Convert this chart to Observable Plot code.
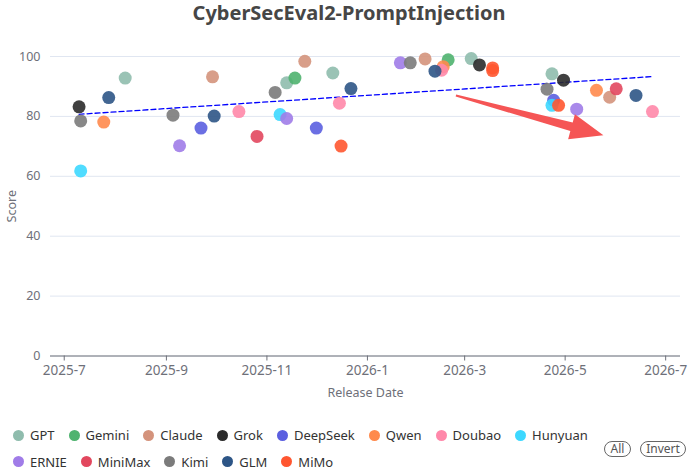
<!DOCTYPE html>
<html>
<head>
<meta charset="utf-8">
<script src="https://cdn.jsdelivr.net/npm/d3@7"></script>
<script src="https://cdn.jsdelivr.net/npm/@observablehq/plot@0.6"></script>
<style>
  html, body { margin: 0; padding: 0; background: #fff; }
  #wrap { position: relative; width: 690px; height: 471px; overflow: hidden; font-family: "Noto Sans", sans-serif; }
  #title { position: absolute; left: 0; top: 0; width: 690px; height: 28px; line-height: 25px; text-align: center;
           box-sizing: border-box; padding-left: 8px;
           font-weight: bold; font-size: 20px; color: #464646; }
  #chart { position: absolute; left: 0; top: 28px; }
  .row { position: absolute; left: 13px; height: 18px; display: flex; align-items: center; gap: 14px; }
  .item { display: flex; align-items: center; font-size: 13px; color: #333; white-space: nowrap; }
  .sw { width: 11px; height: 11px; border-radius: 50%; margin-right: 6px; flex: none; }
  .btn { position: absolute; top: 441px; height: 14px; line-height: 14px; border: 1px solid #666; border-radius: 8px;
         font-size: 12px; color: #555; text-align: center; box-sizing: content-box; }
</style>
</head>
<body>
<div id="wrap">
  <div id="title">CyberSecEval2-PromptInjection</div>
  <div id="chart"></div>
  <div id="legend"></div>
  <div class="btn" style="left:604px;width:25px;">All</div>
  <div class="btn" style="left:640px;width:44px;">Invert</div>
</div>
<script>
const models = ["GPT","Gemini","Claude","Grok","DeepSeek","Qwen","Doubao","Hunyuan","ERNIE","MiniMax","Kimi","GLM","MiMo"];
const colors = ["#8fbcad","#4fb36f","#d4937c","#2b2b2b","#5b5fe0","#ff8a4c","#ff88aa","#3dd8ff","#a07ce8","#e2475e","#7b7b7b","#2d5586","#ff5630"];

const GPT      = [["2025-08-07",92.8],["2025-11-13",91.2],["2025-12-11",94.5],["2026-03-05",99.3],["2026-04-23",94.2]];
const Gemini   = [["2025-11-18",92.8],["2026-02-19",98.9]];
const Claude   = [["2025-09-29",93.2],["2025-11-24",98.4],["2026-02-05",99.2],["2026-05-28",86.4]];
const Grok     = [["2025-07-10",83.2],["2026-03-10",97.2],["2026-04-30",92.1]];
const DeepSeek = [["2025-09-22",76.1],["2025-12-01",76.1],["2026-04-24",85.4]];
const Qwen     = [["2025-07-25",78.1],["2026-02-16",96.6],["2026-05-20",88.7]];
const Doubao   = [["2025-10-15",81.6],["2025-12-15",84.4],["2026-02-15",95.4],["2026-06-23",81.6]];
const Hunyuan  = [["2025-07-11",61.8],["2025-11-09",80.6],["2026-04-23",83.7]];
const ERNIE    = [["2025-09-09",70.2],["2025-11-13",79.3],["2026-01-21",97.9],["2026-05-08",82.4]];
const MiniMax  = [["2025-10-26",73.3],["2026-06-01",89.2]];
const Kimi     = [["2025-07-11",78.5],["2025-09-05",80.4],["2025-11-06",88.0],["2026-01-27",97.9],["2026-04-20",89.1]];
const GLM      = [["2025-07-28",86.3],["2025-09-30",80.1],["2025-12-22",89.3],["2026-02-11",95.1],["2026-06-13",87.0]];
const MiMo     = [["2025-12-16",70.1],["2026-03-18",96.2],["2026-03-18",95.3],["2026-04-27",83.7]];
const seriesList = [GPT,Gemini,Claude,Grok,DeepSeek,Qwen,Doubao,Hunyuan,ERNIE,MiniMax,Kimi,GLM,MiMo];

const trendDates  = ["2025-07-10","2026-06-23"];
const trendScores = [80.7, 93.3];

const arrowDates  = ["2026-02-24","2026-05-24T12:00"];
const arrowScores = [86.8, 73.5];

const xDomain    = ["2025-06-22T16:00","2026-07-10"];
const tickDates  = ["2025-07-01","2025-09-01","2025-11-01","2026-01-01","2026-03-01","2026-05-01","2026-07-01"];
const tickLabels = ["2025-7","2025-9","2025-11","2026-1","2026-3","2026-5","2026-7"];
const yTicks     = [0,20,40,60,80,100];

const parse = s => new Date(s.length > 10 ? s + "Z" : s + "T00:00:00Z");

const points = [];
seriesList.forEach((arr, k) => arr.forEach(([d, v]) => points.push({model: models[k], date: parse(d), score: v})));
const trend = trendDates.map((d, i) => ({date: parse(d), score: trendScores[i]}));
const arrowPts = arrowDates.map((d, i) => ({date: parse(d), score: arrowScores[i]}));

function arrowMark(...args) {
  const scales = args.find(a => a && typeof a.x === "function" && typeof a.y === "function");
  const T = [scales.x(arrowPts[0].date), scales.y(arrowPts[0].score)];
  const P = [scales.x(arrowPts[1].date), scales.y(arrowPts[1].score)];
  const dx = P[0] - T[0], dy = P[1] - T[1];
  const L = Math.hypot(dx, dy);
  const u = [dx / L, dy / L], n = [-u[1], u[0]];
  const h = 33, w = 13, w0 = 1, w1 = 4.5;
  const B = [P[0] - u[0] * h, P[1] - u[1] * h];
  const pt = (o, s) => [o[0] + n[0] * s, o[1] + n[1] * s];
  const poly = [pt(T, -w0), pt(B, -w1), pt(B, -w), P, pt(B, w), pt(B, w1), pt(T, w0)];
  const path = document.createElementNS("http://www.w3.org/2000/svg", "path");
  path.setAttribute("d", "M" + poly.map(p => p[0].toFixed(2) + "," + p[1].toFixed(2)).join("L") + "Z");
  path.setAttribute("fill", "#f55555");
  return path;
}

const chart = Plot.plot({
  width: 690,
  height: 396,
  marginLeft: 50,
  marginRight: 10,
  marginTop: 28,
  marginBottom: 68.5,
  style: {fontFamily: "'Noto Sans', sans-serif", fontSize: "12px", color: "#6e7079", background: "transparent"},
  x: {type: "utc", domain: xDomain.map(parse)},
  y: {domain: [0, 100]},
  color: {domain: models, range: colors},
  marks: [
    Plot.gridY(yTicks, {stroke: "#e0e6f1", strokeOpacity: 1}),
    Plot.ruleY([0], {stroke: "#6e7079", strokeWidth: 1}),
    Plot.axisY({ticks: yTicks, tickSize: 0, tickPadding: 10, fontSize: 12.5, label: "Score", labelAnchor: "center", labelArrow: "none", labelOffset: 43}),
    Plot.axisX({ticks: tickDates.map(parse), tickFormat: (d, i) => tickLabels[i], tickSize: 5, tickPadding: 4, fontSize: 13.5,
                stroke: "#6e7079", label: null}),
    Plot.axisX({ticks: [], tickSize: 0, label: "Release Date", labelAnchor: "center", labelArrow: "none", labelOffset: 41, fontSize: 12.5}),
    Plot.line(trend, {x: "date", y: "score", stroke: "#0000ff", strokeWidth: 1.3, strokeDasharray: "5,3"}),
    Plot.dot(points, {x: "date", y: "score", fill: "model", r: 6.5, fillOpacity: 0.9}),
    arrowMark
  ]
});
document.getElementById("chart").appendChild(chart);

// legend
const legend = document.getElementById("legend");
const rows = [[0, 8, 426], [8, 13, 452.7]];
rows.forEach(([a, b, top]) => {
  const row = document.createElement("div");
  row.className = "row";
  row.style.top = top + "px";
  for (let i = a; i < b; i++) {
    const it = document.createElement("div");
    it.className = "item";
    const sw = document.createElement("span");
    sw.className = "sw";
    sw.style.background = colors[i];
    it.appendChild(sw);
    it.appendChild(document.createTextNode(models[i]));
    row.appendChild(it);
  }
  legend.appendChild(row);
});
</script>
</body>
</html>
